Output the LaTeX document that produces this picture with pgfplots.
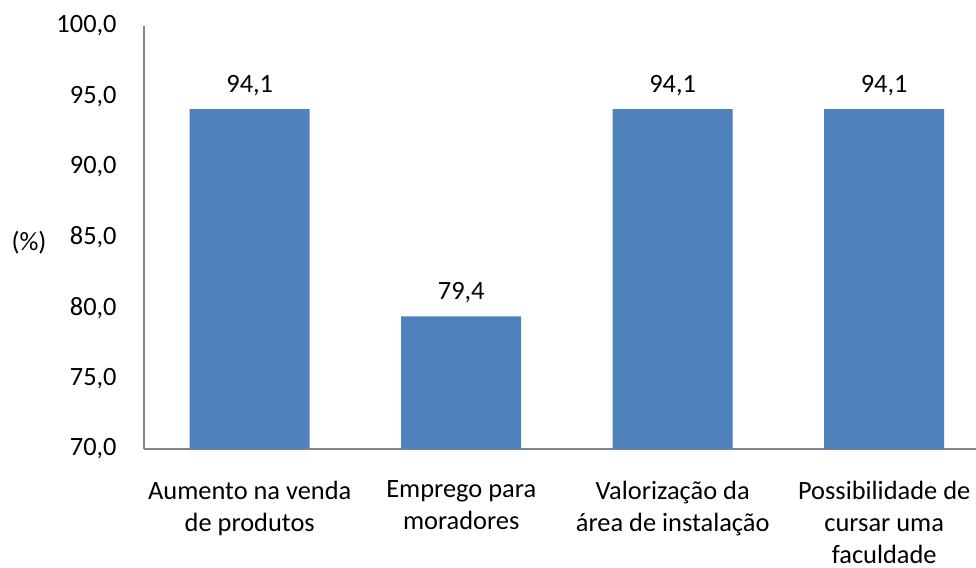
\documentclass[border=0pt]{standalone}
\usepackage{pgfplots}
\pgfplotsset{compat=1.18}
\usepackage{fontspec}
\setmainfont{Carlito}
\definecolor{barblue}{HTML}{4F81BD}
\definecolor{axgray}{HTML}{868686}
\begin{document}
\fontsize{13.2}{16.5}\selectfont
\begin{tikzpicture}
\path[use as bounding box] (-72pt,-59.5pt) rectangle (416pt,224.5pt);
\begin{axis}[
  at={(0,0)}, anchor=south west,
  scale only axis, width=416pt, height=211.5pt,
  xmin=-0.5, xmax=3.434, ymin=70, ymax=100,
  ybar,
  axis x line*=bottom, axis y line*=left,
  axis line style={axgray, line width=0.75pt, -},
  xtick={0,1,2,3},
  xticklabels={{Aumento na venda\\de produtos},{Emprego para\\moradores},{Valorização da\\área de instalação},{Possibilidade de\\cursar uma\\faculdade}},
  ytick={70,75,...,100},
  major tick length=0pt,
  yticklabel={\pgfmathprintnumber[fixed,fixed zerofill,precision=1,use comma,assume math mode=true]{\tick}},
  yticklabel style={anchor=east, inner sep=0pt, xshift=-13.5pt, font=\fontsize{13.2}{16.5}\selectfont},
  xticklabel style={align=center, anchor=north, inner sep=0pt, yshift=-15.8pt, font=\fontsize{13.2}{16}\selectfont},
  ylabel={(\%)},
  ylabel style={rotate=-90, at={(axis description cs:0,0.487)}, anchor=center, xshift=-57.5pt, font=\fontsize{13.2}{16.5}\selectfont},
  nodes near coords={\pgfmathprintnumber[fixed,fixed zerofill,precision=1,use comma,assume math mode=true]{\pgfplotspointmeta}},
  every node near coord/.append style={anchor=base, inner sep=0pt, yshift=8.5pt, text=black, font=\fontsize{13.2}{16.5}\selectfont},
]
\addplot[fill=barblue, draw=none, bar width=60pt] coordinates {(0,94.1) (1,79.4) (2,94.1) (3,94.1)};
\end{axis}
\end{tikzpicture}
\end{document}
